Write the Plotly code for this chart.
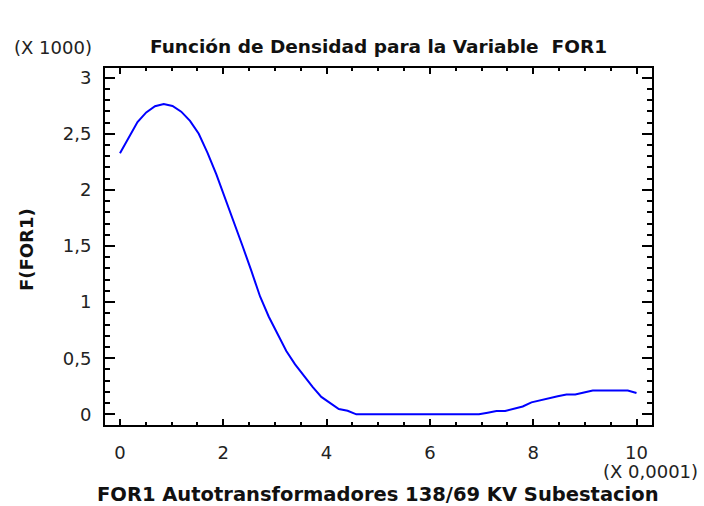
import plotly.graph_objects as go

# x in units of 0.0001, density in units of 1000 (as displayed)
x_vals = [0.0, 0.169, 0.339, 0.508, 0.678, 0.847, 1.017, 1.186, 1.356, 1.525,
          1.695, 1.864, 2.034, 2.203, 2.373, 2.542, 2.712, 2.881, 3.051, 3.220,
          3.390, 3.559, 3.729, 3.898, 4.068, 4.237, 4.407, 4.576, 4.746, 4.915,
          5.085, 5.254, 5.424, 5.593, 5.763, 5.932, 6.102, 6.271, 6.441, 6.610,
          6.780, 6.949, 7.119, 7.288, 7.458, 7.627, 7.797, 7.966, 8.136, 8.305,
          8.475, 8.644, 8.814, 8.983, 9.153, 9.322, 9.492, 9.661, 9.831, 10.0]
density = [2.326, 2.47, 2.605, 2.69, 2.745, 2.765, 2.748, 2.697, 2.615, 2.50,
           2.33, 2.14, 1.93, 1.71, 1.50, 1.28, 1.05, 0.87, 0.71, 0.565,
           0.445, 0.34, 0.245, 0.155, 0.10, 0.047, 0.032, 0.0, 0.0, 0.0,
           0.0, 0.0, 0.0, 0.0, 0.0, 0.0, 0.0, 0.0, 0.0, 0.0,
           0.0, 0.0, 0.015, 0.03, 0.03, 0.05, 0.07, 0.107, 0.127, 0.145,
           0.162, 0.176, 0.176, 0.194, 0.212, 0.212, 0.212, 0.212, 0.212, 0.19]

title_text = "Función de Densidad para la Variable  FOR1"
x_title = "FOR1 Autotransformadores 138/69 KV Subestacion"
y_title = "F(FOR1)"
x_mult = "(X 0,0001)"
y_mult = "(X 1000)"

fig = go.Figure()
fig.add_trace(go.Scatter(x=x_vals, y=density, mode="lines",
                         line=dict(color="#0000FF", width=2), showlegend=False))

W, H = 704, 506
L, R, T, B = 105, 52, 68, 81
pw, ph = W - L - R, H - T - B

def px(xp):
    return (xp - L) / pw

def py(yp):
    return (H - B - yp) / ph

tickfont = dict(family="DejaVu Sans", size=18, color="#222222")

fig.update_layout(
    width=W, height=H,
    margin=dict(l=L, r=R, t=T, b=B, pad=0),
    paper_bgcolor="white", plot_bgcolor="white",
    separators=",.",
    title=dict(text="<b>" + title_text + "</b>", x=0.5, xref="paper",
               y=1 - 47 / H, yref="container", yanchor="middle", xanchor="center",
               font=dict(family="DejaVu Sans", size=18.5, color="#111111")),
    xaxis=dict(range=[-0.29, 10.30], tickmode="linear", tick0=0, dtick=2,
               showgrid=False, zeroline=False,
               showline=True, linecolor="black", linewidth=2, mirror="ticks",
               ticks="inside", ticklen=6, tickwidth=2, tickcolor="black",
               minor=dict(ticks="inside", ticklen=3, tickwidth=2, tickcolor="black", dtick=0.5),
               tickfont=tickfont, ticklabelstandoff=10),
    yaxis=dict(range=[-0.095, 3.086], tickmode="linear", tick0=0, dtick=0.5,
               showgrid=False, zeroline=False,
               showline=True, linecolor="black", linewidth=2, mirror="ticks",
               ticks="inside", ticklen=10, tickwidth=2, tickcolor="black",
               minor=dict(ticks="inside", ticklen=5, tickwidth=2, tickcolor="black", dtick=0.1),
               tickfont=tickfont, ticklabelstandoff=8),
    annotations=[
        dict(text="<b>" + y_title + "</b>", textangle=-90, xref="paper", yref="paper",
             x=px(26), y=py(250), xanchor="center", yanchor="middle", showarrow=False,
             font=dict(family="DejaVu Sans", size=18, color="#111111")),
        dict(text="<b>" + x_title + "</b>", xref="paper", yref="paper",
             x=px(378), y=py(494), xanchor="center", yanchor="middle", showarrow=False,
             font=dict(family="DejaVu Sans", size=19.5, color="#111111")),
        dict(text=y_mult, xref="paper", yref="paper",
             x=px(12), y=py(47), xanchor="left", yanchor="middle", showarrow=False,
             font=tickfont),
        dict(text=x_mult, xref="paper", yref="paper",
             x=px(700), y=py(471), xanchor="right", yanchor="middle", showarrow=False,
             font=tickfont),
    ],
)

fig.write_html("out.html", config={"displayModeBar": False},
               post_script="document.body.style.margin='0';document.body.style.padding='0';")
